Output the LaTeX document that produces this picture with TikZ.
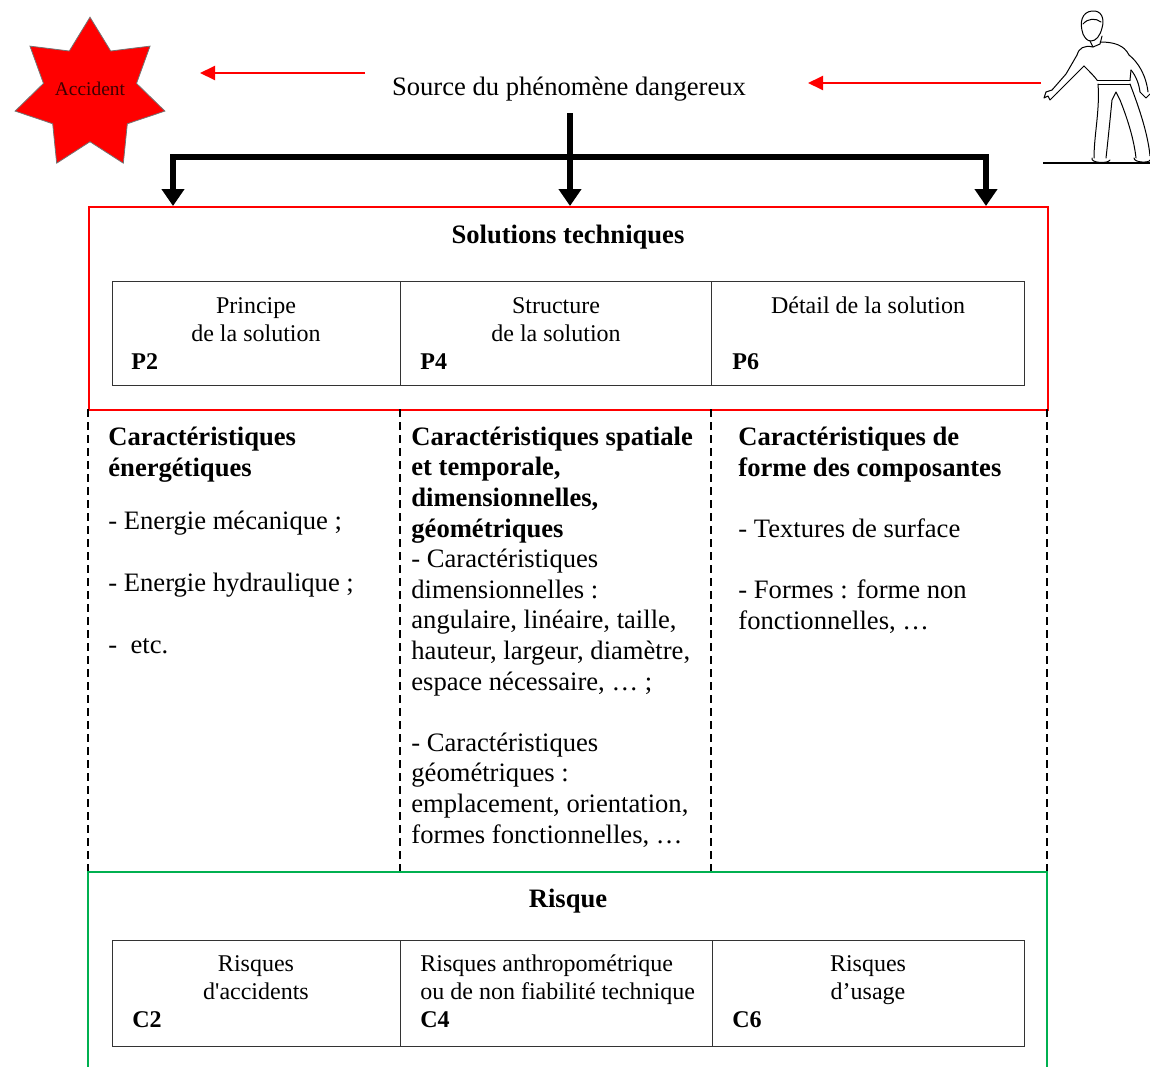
\documentclass[tikz,border=0pt]{standalone}
\usepackage{fontspec}
\setmainfont{Liberation Serif}
\usetikzlibrary{arrows.meta,shapes.geometric}

\definecolor{warnred}{RGB}{255,0,0}
\definecolor{riskgreen}{RGB}{0,176,80}
\definecolor{accdark}{RGB}{60,0,0}

\newcommand{\bodyfont}{\fontsize{13.3}{15.3}\selectfont}
\newcommand{\cellfont}{\fontsize{12}{14}\selectfont}

% multi-line nodes sit on the baseline of their last line
\tikzset{
  cell/.style={draw=black!80, line width=0.6pt, inner sep=0pt, anchor=north west},
  txt/.style={inner sep=0pt, anchor=base west, align=left, font=\bodyfont},
  ctxt/.style={inner sep=0pt, anchor=base, align=center, font=\cellfont},
  ltxt/.style={inner sep=0pt, anchor=base west, align=left, font=\cellfont},
  code/.style={inner sep=0pt, anchor=base west, font=\cellfont\bfseries},
  feed/.style={line width=2.8pt, -{Triangle[length=8.5pt,width=11pt]}},
  warn/.style={draw=warnred, line width=1pt, -{Triangle[length=7.5pt,width=7pt]}},
  sep/.style={line width=1pt, dash pattern=on 4pt off 2.5pt},
  man/.style={line width=0.5pt, line join=round, line cap=round}
}

\begin{document}
\begin{tikzpicture}[x=0.5pt, y=-0.5pt]
  \useasboundingbox (0,0) rectangle (1150,1066);

  % the accident and the source
  \node[star, star points=7, star point ratio=1.61, minimum size=76.8pt,
        inner sep=0pt, fill=warnred, draw=black!55, line width=0.4pt] (accident) at (90,94) {};
  \node[inner sep=0pt, text=accdark, font=\fontsize{9.7}{11}\selectfont] (acclabel) at (90,89) {Accident};
  \node[inner sep=0pt, anchor=base, font=\bodyfont] (src) at (569,95) {Source du phénomène dangereux};

  \coordinate (tail1) at (365,73);
  \coordinate (tip1) at (200,73);
  \coordinate (hand) at (1041,83);
  \coordinate (tip2) at (808,83);
  \draw[warn] (tail1) -- (tip1);
  \draw[warn] (hand) -- (tip2);

  % operator pointing at the source
  \draw[man, fill=white] (1083,34) .. controls (1079,22) and (1082,12) .. (1092,11)
    .. controls (1101,10) and (1105,18) .. (1102,28)
    .. controls (1100,36) and (1096,41) .. (1091,41)
    .. controls (1087,41) and (1085,38) .. (1083,34) -- cycle;
  \draw[man] (1083,24) .. controls (1088,18) and (1096,18) .. (1101,22);
  \draw[man] (1090,41) -- (1093,47) -- (1100,44) -- (1102,36);
  \draw[man] (1093,47) .. controls (1084,45) and (1079,48) .. (1077,55);
  \draw[man] (1100,42) .. controls (1114,42) and (1124,45) .. (1129,55);
  \draw[man] (1077,55) -- (1066,74) -- (1052,90);
  \draw[man] (1084,66) -- (1072,78) -- (1057,93);
  \draw[man] (1052,90) -- (1046,92) -- (1044,98) -- (1048,96) -- (1050,100) -- (1057,93);
  \draw[man] (1129,55) .. controls (1138,62) and (1146,75) .. (1148,92);
  \draw[man] (1131,70) .. controls (1136,76) and (1139,84) .. (1140,92);
  \draw[man] (1140,92) -- (1146,98) -- (1150,94);
  \draw[man] (1084,66) .. controls (1090,72) and (1094,76) .. (1097,80);
  \draw[man] (1131,70) -- (1130,80);
  \draw[man] (1097,80) -- (1130,80);
  \draw[man] (1098,84) -- (1130,84);
  \draw[man] (1098,84) .. controls (1100,110) and (1094,135) .. (1094,158);
  \draw[man] (1106,158) .. controls (1108,140) and (1110,120) .. (1112,100) -- (1116,92) -- (1120,100)
    .. controls (1128,120) and (1134,140) .. (1136,158);
  \draw[man] (1130,84) .. controls (1140,110) and (1148,135) .. (1150,156);
  \draw[man] (1092,158) .. controls (1090,163) and (1108,164) .. (1110,160);
  \draw[man] (1134,158) .. controls (1134,163) and (1150,163) .. (1150,160);
  \draw[line width=1pt] (1043,163) -- (1150,163);

  % technical solutions
  \node[draw=warnred, line width=1pt, inner sep=0pt, anchor=north west,
        minimum width=479.5pt, minimum height=101.5pt] (sol) at (88,206) {};
  \node[inner sep=0pt, anchor=base, font=\bodyfont\bfseries] (soltitle) at (568,243) {Solutions techniques};

  \coordinate (stem) at (570,113);
  \coordinate (fork) at (570,157);
  \coordinate (inL) at (173,206);
  \coordinate (inR) at (986,206);
  \draw[feed] (stem) -- (stem |- sol.north);
  \draw[feed] (fork) -| (inL);
  \draw[feed] (fork) -| (inR);

  \node[cell, minimum width=144pt, minimum height=52pt] (p2cell) at (112,281) {};
  \node[cell, minimum width=155.5pt, minimum height=52pt] (p4cell) at (400,281) {};
  \node[cell, minimum width=156.5pt, minimum height=52pt] (p6cell) at (711,281) {};
  \node[ctxt] (p2txt) at (256,341) {Principe\\de la solution};
  \node[ctxt] (p4txt) at (556,341) {Structure\\de la solution};
  \node[ctxt] (p6txt) at (868,313) {Détail de la solution};
  \node[code] (p2) at (131,369) {P2};
  \node[code] (p4) at (420,369) {P4};
  \node[code] (p6) at (732,369) {P6};

  % characteristics columns
  \foreach \x in {88,400,711,1047}
    \draw[sep] (\x,409) -- (\x,872);

  \node[txt] (energy) at (108,476) {\bfseries Caractéristiques\\\bfseries énergétiques};
  \node[txt] (energylist) at (108,653)
    {- Energie mécanique ;\\[15.7pt]- Energie hydraulique ;\\[15.7pt]-~~etc.};
  \node[txt] (space) at (411,843)
    {\bfseries Caractéristiques spatiale\\\bfseries et temporale,\\
     \bfseries dimensionnelles,\\\bfseries géométriques\\
     - Caractéristiques\\dimensionnelles :\\angulaire, linéaire, taille,\\
     hauteur, largeur, diamètre,\\espace nécessaire, … ;\\[15.3pt]
     - Caractéristiques\\géométriques :\\emplacement, orientation,\\
     formes fonctionnelles, …};
  \node[txt] (shape) at (738,629)
    {\bfseries Caractéristiques de\\\bfseries forme des composantes\\[15.3pt]
     - Textures de surface\\[15.3pt]- Formes : forme non\\fonctionnelles, …};

  % risk
  \draw[riskgreen, line width=1pt] (88,1075) -- (88,872) -- (1047,872) -- (1047,1075);
  \node[inner sep=0pt, anchor=base, font=\bodyfont\bfseries] (risk) at (568,907) {Risque};

  \node[cell, minimum width=144pt, minimum height=53pt] (c2cell) at (112,940) {};
  \node[cell, minimum width=156pt, minimum height=53pt] (c4cell) at (400,940) {};
  \node[cell, minimum width=156pt, minimum height=53pt] (c6cell) at (712,940) {};
  \node[ctxt] (c2txt) at (256,999) {Risques\\d\textquotesingle accidents};
  \node[ltxt] (c4txt) at (420,999) {Risques anthropométrique\\ou de non fiabilité technique};
  \node[ctxt] (c6txt) at (868,999) {Risques\\d’usage};
  \node[code] (c2) at (132,1027) {C2};
  \node[code] (c4) at (420,1027) {C4};
  \node[code] (c6) at (732,1027) {C6};
\end{tikzpicture}
\end{document}
